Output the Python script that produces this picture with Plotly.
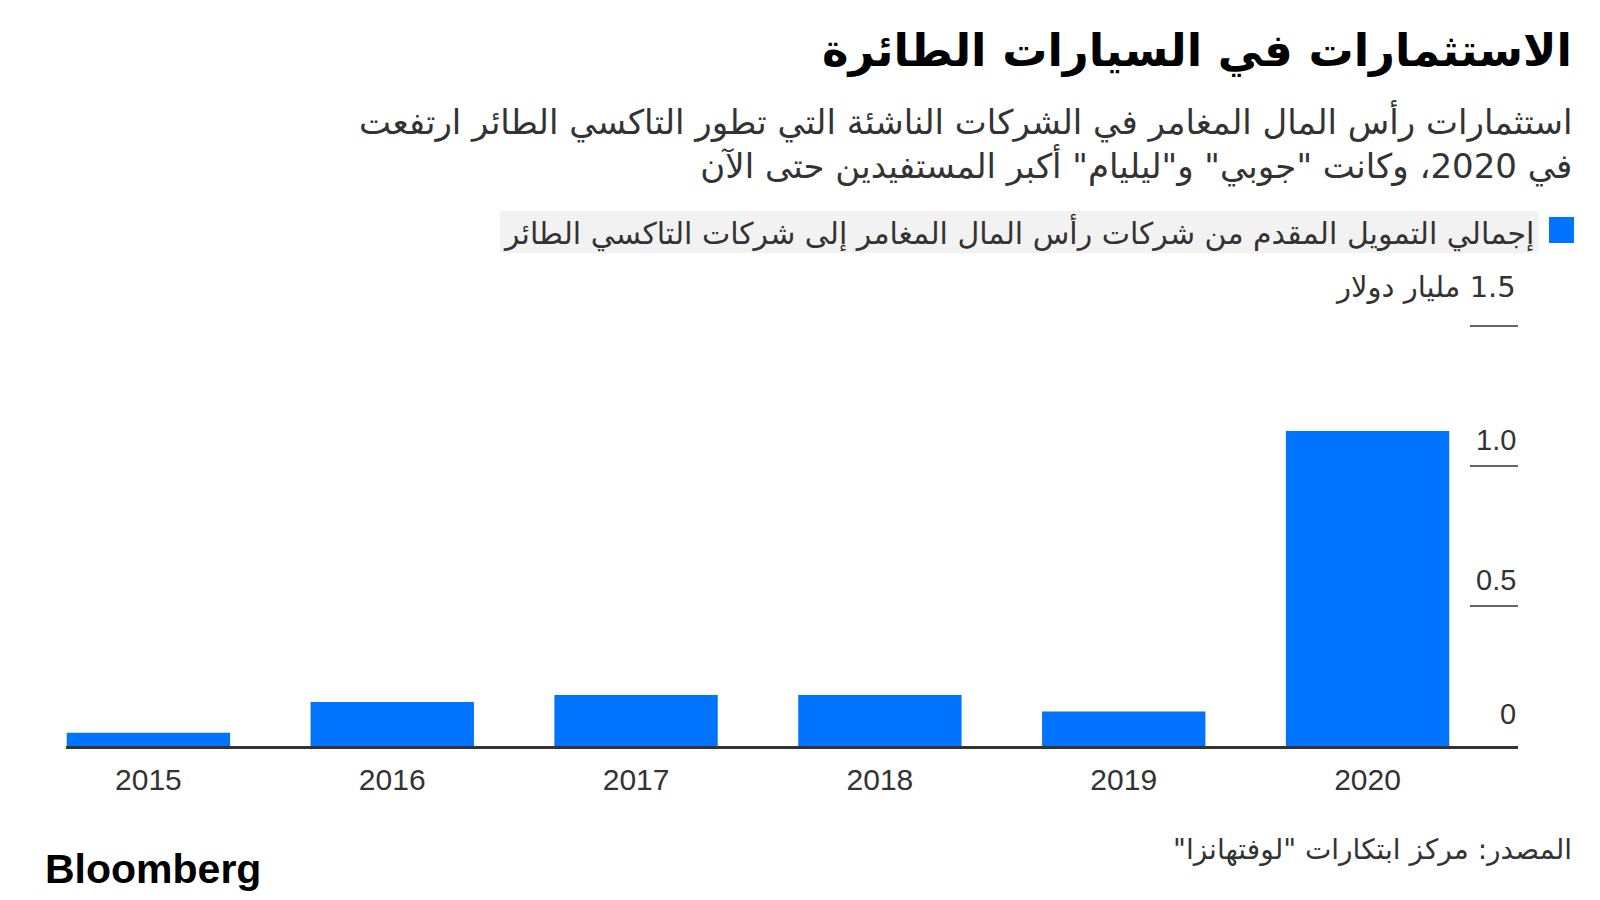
import plotly.graph_objects as go

years = ["2015", "2016", "2017", "2018", "2019", "2020"]
funding = [0.047, 0.157, 0.182, 0.182, 0.123, 1.125]
y_ticks = [0, 0.5, 1.0, 1.5]
y_tick_labels = ["0", "0.5", "1.0", "1.5 مليار دولار"]

title = "الاستثمارات في السيارات الطائرة"
subtitle_lines = ["استثمارات رأس المال المغامر في الشركات الناشئة التي تطور التاكسي الطائر ارتفعت",
                  "في 2020، وكانت \"جوبي\" و\"ليليام\" أكبر المستفيدين حتى الآن"]
legend_label = "إجمالي التمويل المقدم من شركات رأس المال المغامر إلى شركات التاكسي الطائر"
source = "المصدر: مركز ابتكارات \"لوفتهانزا\""

RLM = "\u200f"

def rtl(s):
    return RLM + s + RLM

W, H = 1600, 900
L, R, T, B = 66, 82, 306, 154
PW, PH = W - L - R, H - T - B
Y_TOP = 1.5 * PH / 420.0

def px(x):
    return (x - L) / PW

def py(y):
    return (H - B - y) / PH

AR = "DejaVu Sans, Noto Sans, sans-serif"
NUM = "Liberation Sans, Arial, sans-serif"
BLUE = "#0073ff"
TXT = "#333333"

fig = go.Figure()
fig.add_trace(go.Bar(x=years, y=funding, marker=dict(color=BLUE, line=dict(width=0)),
                     width=0.67, showlegend=False))

annotations = []
shapes = []
for v, lab in zip(y_ticks, y_tick_labels):
    if v > 0:
        shapes.append(dict(type="line", xref="x domain", yref="y", x0=px(1470), x1=1.0,
                           y0=v, y1=v, line=dict(color=TXT, width=1.5)))
    is_unit = v >= 1.5
    annotations.append(dict(xref="x domain", yref="y", x=1.0, y=v,
                            text=rtl(lab) if is_unit else lab, showarrow=False,
                            xanchor="right", yanchor="bottom",
                            yshift=20 if is_unit else (8 if v > 0 else 14),
                            font=dict(family=AR if is_unit else NUM, size=29, color=TXT)))

# title, subtitle
annotations.append(dict(xref="paper", yref="paper", x=px(1574), y=py(51),
                        text="<b>" + rtl(title) + "</b>",
                        showarrow=False, xanchor="right", yanchor="middle",
                        font=dict(family=AR, size=45, color="#000000")))
annotations.append(dict(xref="paper", yref="paper", x=px(1574), y=py(143),
                        text="<br>".join(rtl(s) for s in subtitle_lines),
                        showarrow=False, xanchor="right", yanchor="middle", align="right",
                        font=dict(family=AR, size=34, color=TXT)))
# legend
shapes.append(dict(type="rect", xref="paper", yref="paper", x0=px(500), x1=px(1539),
                   y0=py(253), y1=py(211), fillcolor="#f2f2f2", line=dict(width=0), layer="below"))
shapes.append(dict(type="rect", xref="paper", yref="paper", x0=px(1549), x1=px(1574),
                   y0=py(243), y1=py(217), fillcolor=BLUE, line=dict(width=0)))
annotations.append(dict(xref="paper", yref="paper", x=px(1536), y=py(232), text=rtl(legend_label),
                        showarrow=False, xanchor="right", yanchor="middle",
                        font=dict(family=AR, size=30, color=TXT)))
# source and logo
annotations.append(dict(xref="paper", yref="paper", x=px(1574), y=py(849), text=rtl(source),
                        showarrow=False, xanchor="right", yanchor="middle",
                        font=dict(family=AR, size=28, color=TXT)))
annotations.append(dict(xref="paper", yref="paper", x=px(43), y=py(869), text="<b>Bloomberg</b>",
                        showarrow=False, xanchor="left", yanchor="middle",
                        font=dict(family=NUM, size=41, color="#000000")))

fig.update_layout(
    width=W, height=H,
    margin=dict(l=L, r=R, t=T, b=B, autoexpand=False),
    paper_bgcolor="white", plot_bgcolor="white",
    xaxis=dict(type="category", range=[-0.338, 5.617], showgrid=False, zeroline=False,
               showline=True, linecolor=TXT, linewidth=2.5, ticks="", ticklabelstandoff=5,
               tickfont=dict(family=NUM, size=30, color=TXT), fixedrange=True),
    yaxis=dict(range=[0, Y_TOP], showgrid=False, zeroline=False, showticklabels=False,
               fixedrange=True),
    annotations=annotations, shapes=shapes,
    bargap=0.33,
)

fig.write_html("out.html", config={"displayModeBar": False},
               post_script="document.body.style.margin='0';document.body.style.overflow='hidden';")
